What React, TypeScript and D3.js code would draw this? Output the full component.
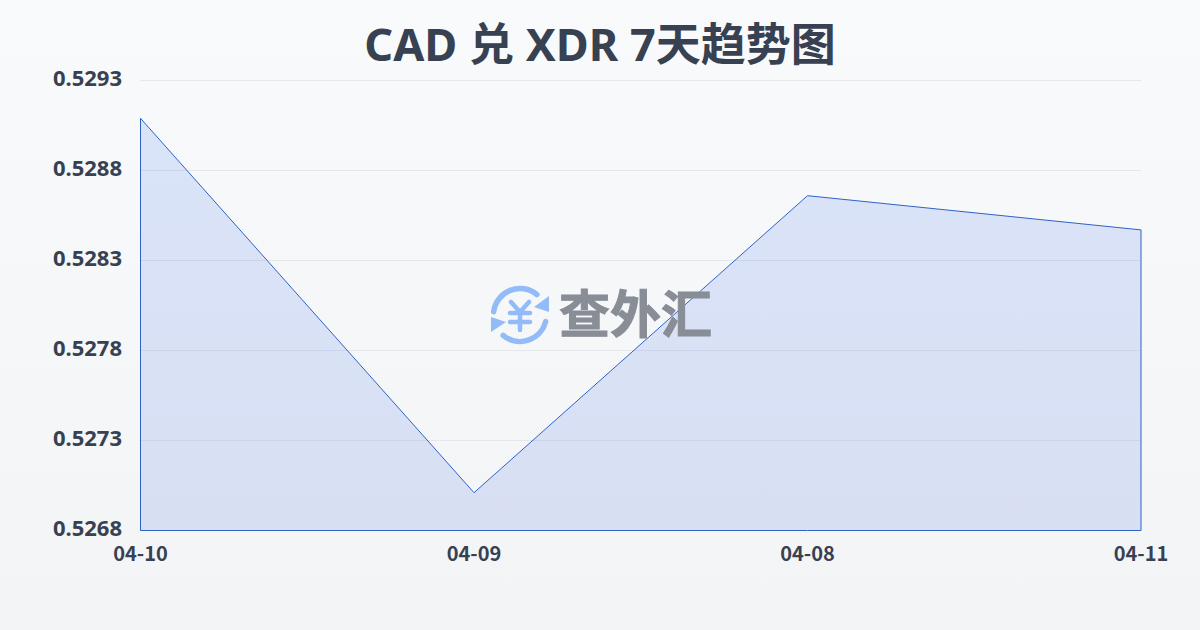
import { useEffect, useRef } from 'react'
import * as d3 from 'd3'

const dates = ['04-10', '04-09', '04-08', '04-11']
const rates = [0.52909, 0.52701, 0.52866, 0.52847]
const yTicks = [0.5268, 0.5273, 0.5278, 0.5283, 0.5288, 0.5293]

const FONT = '"Noto Sans", "Noto Sans CJK SC", sans-serif'
const TEXT = '#374151'
const ICON = '#93bbf8'
const MARK = '#888d96'

export default function App() {
  const svgRef = useRef<SVGSVGElement>(null)

  useEffect(() => {
    const svg = d3.select(svgRef.current!)
    svg.selectAll('*').remove()

    const margin = { top: 80.5, right: 59, bottom: 99.5, left: 140.5 }
    const width = 1200
    const height = 630
    const innerW = width - margin.left - margin.right
    const innerH = height - margin.top - margin.bottom

    const x = d3.scalePoint<string>().domain(dates).range([0, innerW])
    const y = d3.scaleLinear().domain([0.5268, 0.5293]).range([innerH, 0])

    const defs = svg.append('defs')
    const bg = defs.append('linearGradient').attr('id', 'bg').attr('x1', 0).attr('y1', 0).attr('x2', 0).attr('y2', 1)
    bg.append('stop').attr('offset', '0%').attr('stop-color', '#f8fafc')
    bg.append('stop').attr('offset', '100%').attr('stop-color', '#f3f4f6')

    const fill = defs.append('linearGradient').attr('id', 'fill').attr('x1', 0).attr('y1', 0).attr('x2', 0).attr('y2', 1)
    fill.append('stop').attr('offset', '0%').attr('stop-color', '#2563eb').attr('stop-opacity', 0.14)
    fill.append('stop').attr('offset', '100%').attr('stop-color', '#1d4ed8').attr('stop-opacity', 0.13)

    svg.append('rect').attr('width', width).attr('height', height).attr('fill', 'url(#bg)')

    // Title
    svg.append('text')
      .attr('x', 600)
      .attr('y', 61)
      .attr('text-anchor', 'middle')
      .style('font-family', FONT)
      .style('font-size', '45px')
      .style('font-weight', 700)
      .style('fill', TEXT)
      .text('CAD 兑 XDR 7天趋势图')

    const g = svg.append('g').attr('transform', `translate(${margin.left},${margin.top})`)

    // Gridlines
    g.append('g')
      .selectAll('line')
      .data(yTicks)
      .enter()
      .append('line')
      .attr('x1', 0)
      .attr('x2', innerW)
      .attr('y1', d => y(d))
      .attr('y2', d => y(d))
      .style('stroke', '#e5e7eb')
      .style('stroke-width', 1)

    // Y labels
    g.append('g')
      .selectAll('text')
      .data(yTicks)
      .enter()
      .append('text')
      .attr('x', -18.5)
      .attr('y', d => y(d) + 5.5)
      .attr('text-anchor', 'end')
      .style('font-family', FONT)
      .style('font-size', '22px')
      .style('font-weight', 700)
      .style('fill', TEXT)
      .text(d => d.toFixed(4))

    // X labels
    g.append('g')
      .selectAll('text')
      .data(dates)
      .enter()
      .append('text')
      .attr('x', d => x(d)!)
      .attr('y', innerH + 30)
      .attr('text-anchor', 'middle')
      .style('font-family', '"Noto Sans CJK SC", sans-serif')
      .style('font-size', '20px')
      .style('font-weight', 700)
      .style('fill', TEXT)
      .text(d => d)

    // Watermark
    const mark = svg.append('g')
    const icon = mark.append('g').attr('transform', 'translate(520,315)')
    const arcPath = (a0: number, a1: number) => {
      const p = d3.path()
      p.arc(0, 0, 26.5, a0, a1)
      return p.toString()
    }
    icon.append('path').attr('d', arcPath(Math.PI * 1.04, Math.PI * 1.72))
    icon.append('path').attr('d', arcPath(Math.PI * 0.08, Math.PI * 0.72))
    icon.selectAll('path')
      .attr('fill', 'none')
      .attr('stroke', ICON)
      .attr('stroke-width', 5.5)
      .attr('stroke-linecap', 'round')
    icon.append('path').attr('d', 'M29,-19 L29,-3 L14,-8 Z').attr('fill', ICON)
    icon.append('path').attr('d', 'M-29,2 L-29,17 L-14,7 Z').attr('fill', ICON)
    icon.append('path')
      .attr('d', 'M-9,-13 L0,-3 L9,-13 M-10,-2 H10 M-10,7 H10 M0,-3 V15')
      .attr('fill', 'none')
      .attr('stroke', ICON)
      .attr('stroke-width', 4.5)
      .attr('stroke-linecap', 'round')
      .attr('stroke-linejoin', 'round')
    mark.append('text')
      .attr('x', 559)
      .attr('y', 333)
      .style('font-family', '"Noto Sans CJK SC", sans-serif')
      .style('font-size', '51px')
      .style('font-weight', 700)
      .style('fill', MARK)
      .style('stroke', MARK)
      .style('stroke-width', 1)
      .text('查外汇')

    // Area
    const area = d3.area<number>()
      .x((_, i) => x(dates[i])!)
      .y0(innerH)
      .y1(d => y(d))

    g.append('path')
      .datum(rates)
      .attr('d', area)
      .style('fill', 'url(#fill)')
      .style('stroke', '#2f62c6')
      .style('stroke-width', 1)
  }, [])

  return (
    <svg
      ref={svgRef}
      width={1200}
      height={630}
      style={{ position: 'absolute', left: 0, top: 0, display: 'block' }}
    />
  )
}
